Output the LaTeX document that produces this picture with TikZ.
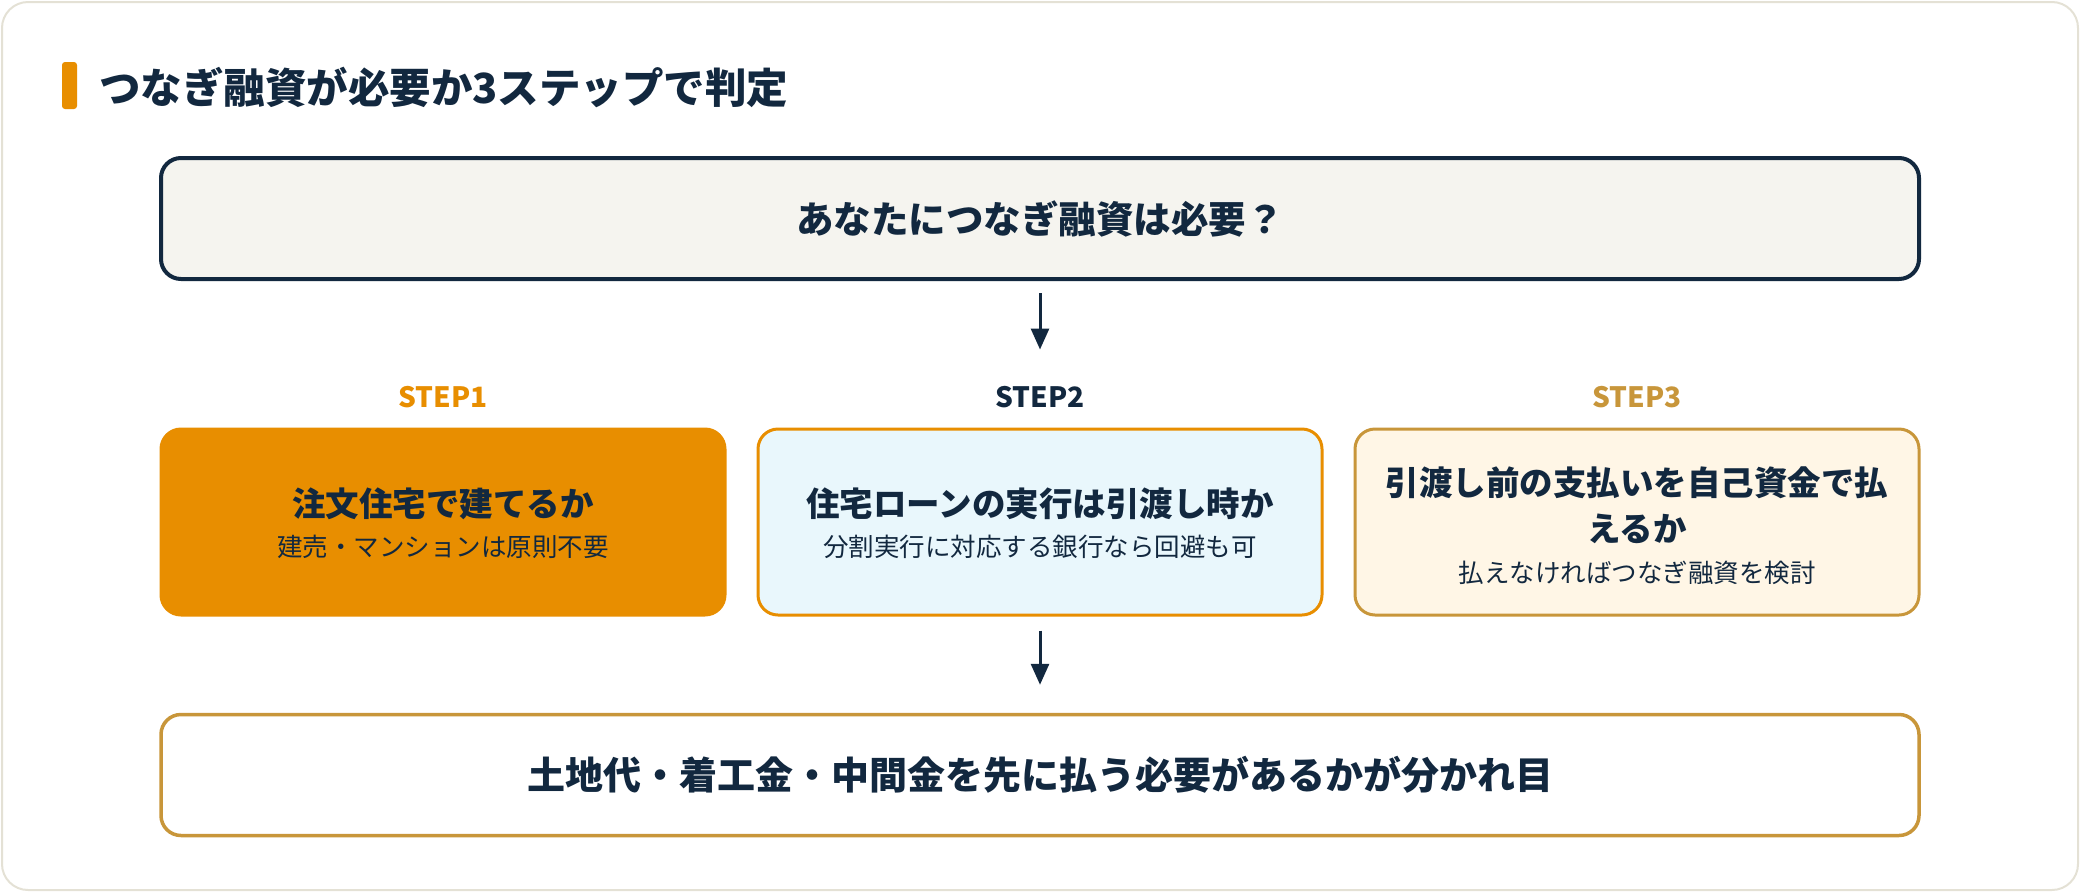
\documentclass[tikz,border=0pt]{standalone}
\usepackage{fontspec}
\setmainfont{Noto Sans CJK JP}
\usetikzlibrary{arrows.meta}
\definecolor{navy}{HTML}{12283F}
\definecolor{orng}{HTML}{E88E00}
\definecolor{gold}{HTML}{C8963A}
\definecolor{cardline}{HTML}{E4E1D5}
\definecolor{topfill}{HTML}{F5F4EF}
\definecolor{bluefill}{HTML}{E9F7FC}
\definecolor{creamfill}{HTML}{FFF6E6}
\tikzset{
  boxbase/.style={rounded corners=20pt, inner sep=0pt},
  stepbox/.style={boxbase, minimum width=564pt, minimum height=186pt, line width=3pt},
  widebox/.style={boxbase, minimum width=1758pt, minimum height=121pt},
  steplabel/.style={font=\fontsize{28}{32}\selectfont\bfseries, inner sep=0pt},
  boxtitle/.style={font=\fontsize{33.5}{46}\selectfont\bfseries, text=navy, inner sep=0pt, align=center},
  boxsub/.style={font=\fontsize{25.5}{30}\selectfont, text=navy, inner sep=0pt},
  arr/.style={-{Triangle[length=21pt,width=18pt]}, line width=3pt, draw=navy},
}
\begin{document}
\begin{tikzpicture}[x=1pt,y=-1pt]
\useasboundingbox (0,0) rectangle (2080,892);
% card
\draw[cardline, line width=2pt, fill=white, rounded corners=26pt] (2,2) rectangle (2078,890);
% title
\fill[orng, rounded corners=3pt] (62,62) rectangle (77,109);
\node[anchor=west, inner sep=0pt, text=navy, font=\fontsize{41.5}{48}\selectfont\bfseries] (title) at (99,87) {つなぎ融資が必要か3ステップで判定};
% top box
\node[widebox, draw=navy, line width=4pt, fill=topfill, text=navy, font=\fontsize{37.5}{44}\selectfont\bfseries] (top) at (1040,218.5) {あなたにつなぎ融資は必要？};
% step labels
\node[steplabel, text=orng] (l1) at (443,397) {STEP1};
\node[steplabel, text=navy] (l2) at (1040,397) {STEP2};
\node[steplabel, text=gold] (l3) at (1637,397) {STEP3};
% step boxes
\node[stepbox, draw=orng, fill=orng] (b1) at (443,522) {};
\node[stepbox, draw=orng, fill=bluefill] (b2) at (1040,522) {};
\node[stepbox, draw=gold, fill=creamfill] (b3) at (1637,522) {};
% box texts
\node[boxtitle] (t1) at (443,504) {注文住宅で建てるか};
\node[boxsub] (s1) at (443,547) {建売・マンションは原則不要};
\node[boxtitle] (t2) at (1040,504) {住宅ローンの実行は引渡し時か};
\node[boxsub] (s2) at (1040,547) {分割実行に対応する銀行なら回避も可};
\node[boxtitle] (t3) at (1637,505) {引渡し前の支払いを自己資金で払\\えるか};
\node[boxsub] (s3) at (1637,573) {払えなければつなぎ融資を検討};
% bottom box
\node[widebox, draw=gold, line width=3.5pt, fill=white, text=navy, font=\fontsize{38}{44}\selectfont\bfseries] (bot) at (1040,775) {土地代・着工金・中間金を先に払う必要があるかが分かれ目};
% arrows
\draw[arr, shorten <=12pt, shorten >=78pt] (top.south) -- (b2.north);
\draw[arr, shorten <=14pt, shorten >=28pt] (b2.south) -- (bot.north);
\end{tikzpicture}
\end{document}
